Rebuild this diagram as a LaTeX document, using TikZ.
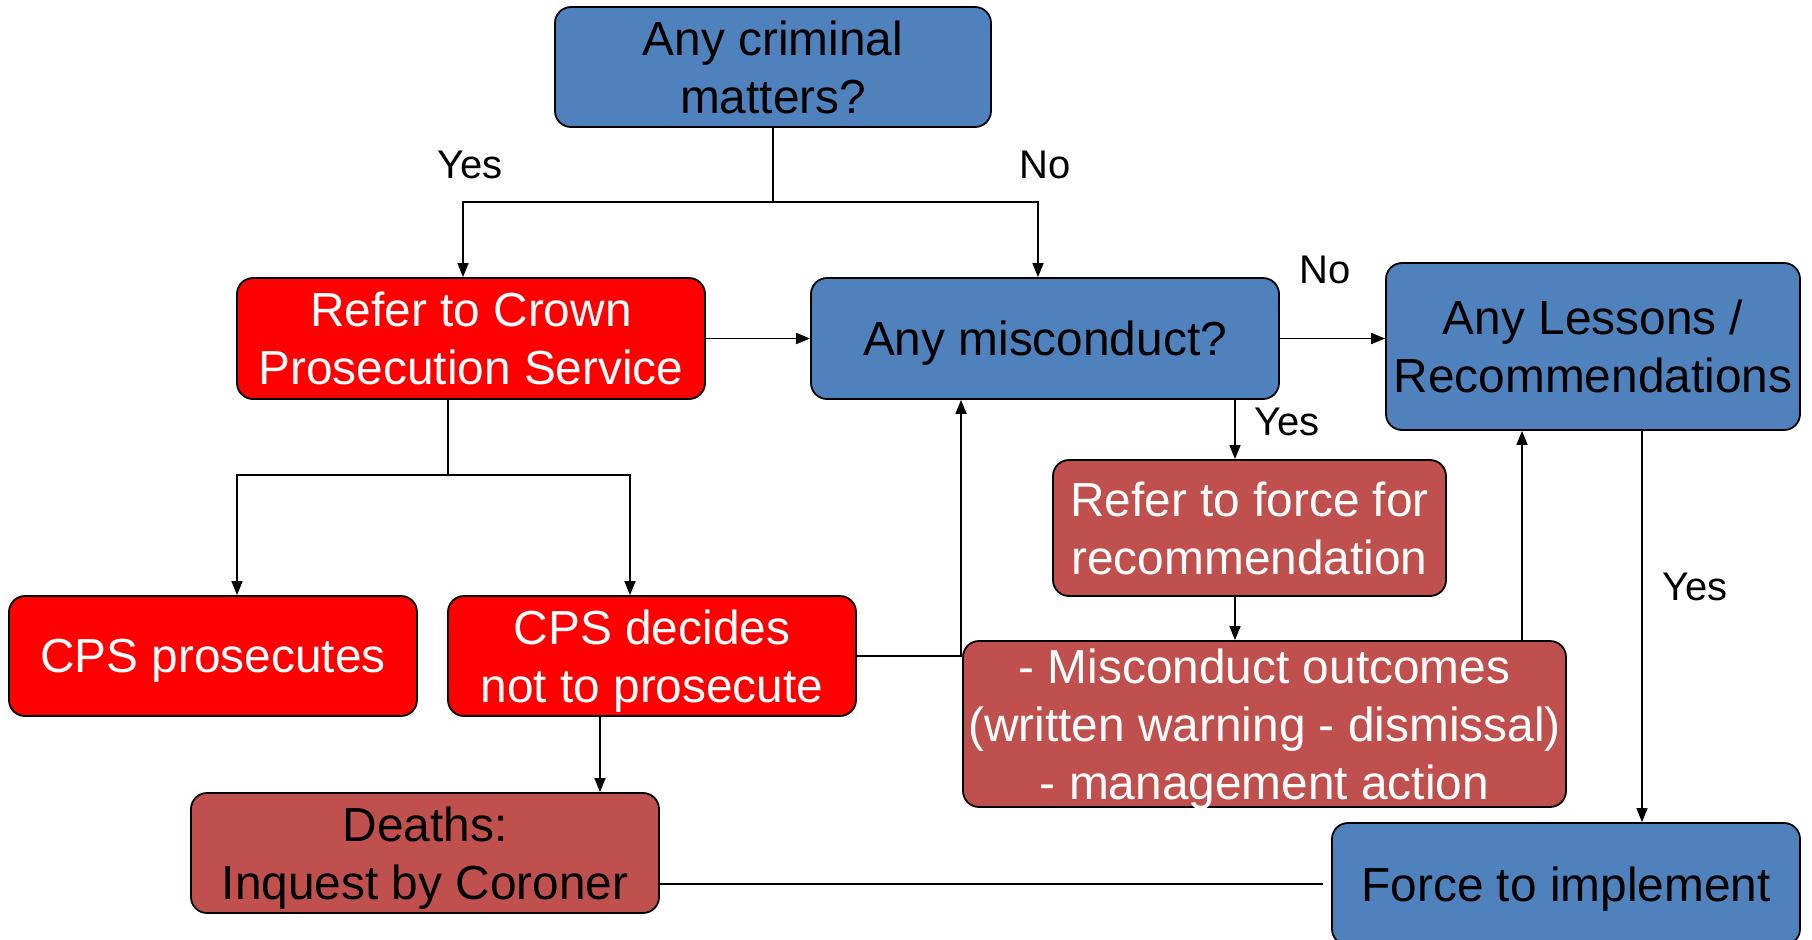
\documentclass[tikz,border=0pt]{standalone}
\usepackage{fontspec}
\setmainfont{Liberation Sans}
\usetikzlibrary{arrows.meta}
\definecolor{boxblue}{HTML}{4F81BD}
\definecolor{boxred}{HTML}{FF0000}
\definecolor{boxbrown}{HTML}{C0504D}
\tikzset{
  box/.style={draw=black, line width=0.9pt, rounded corners=8pt, align=center, inner sep=1pt, text depth=-1.5pt, font=\fontsize{23.9}{29}\selectfont},
  bluebox/.style={box, fill=boxblue, text=black},
  redbox/.style={box, fill=boxred, text=white},
  brownbox/.style={box, fill=boxbrown, text=white},
  link/.style={line width=0.8pt},
  arr/.style={link, -{Triangle[length=7pt,width=5.5pt]}},
  lbl/.style={font=\fontsize{20}{24}\selectfont}
}
\begin{document}
\begin{tikzpicture}[x=0.5pt, y=-0.5pt]
    \useasboundingbox (0,0) rectangle (1812,939);
    % Boxes
    \node[bluebox, minimum width=218pt, minimum height=60pt] (crim) at (773,67) {Any criminal\\matters?};
    \node[redbox, minimum width=234pt, minimum height=60.5pt] (cps) at (471,338.5) {Refer to Crown\\Prosecution Service};
    \node[bluebox, minimum width=234pt, minimum height=60.5pt] (misc) at (1045,338.5) {Any misconduct?};
    \node[bluebox, minimum width=207pt, minimum height=83.5pt] (lessons) at (1593,346.5) {Any Lessons /\\Recommendations};
    \node[brownbox, minimum width=196.5pt, minimum height=68pt] (force) at (1249.5,528) {Refer to force for\\recommendation};
    \node[redbox, minimum width=204pt, minimum height=60pt] (pros) at (213,656) {CPS prosecutes};
    \node[redbox, minimum width=204pt, minimum height=60pt] (decide) at (652,656) {CPS decides\\not to prosecute};
    \node[brownbox, minimum width=301.5pt, minimum height=83pt] (outc) at (1264.5,724) {- Misconduct outcomes\\(written warning - dismissal)\\- management action};
    \node[brownbox, text=black, minimum width=234pt, minimum height=60pt] (deaths) at (425,853) {Deaths:\\Inquest by Coroner};
    \node[bluebox, minimum width=234pt, minimum height=61pt] (impl) at (1566,884) {Force to implement};

    % Junctions
    \coordinate (split) at (773,202);
    \coordinate (yesdrop) at (463,202);
    \coordinate (nodrop) at (1038,202);
    \coordinate (fork) at (448,475);
    \coordinate (forkl) at (237,475);
    \coordinate (forkr) at (630,475);
    \coordinate (back) at (961,656);
    \coordinate (mx) at (1235,0);
    \coordinate (upx) at (1522,0);
    \coordinate (downx) at (1642,0);
    \coordinate (dx) at (600,0);

    % Connectors
    \draw[link] (crim) -- (split);
    \draw[arr] (split) -- (yesdrop) -- (yesdrop |- cps.north);
    \draw[arr] (split) -- (nodrop) -- (nodrop |- misc.north);
    \draw[arr] (cps) -- (misc);
    \draw[link] (fork |- cps.south) -- (fork);
    \draw[arr] (fork) -- (forkl) -- (forkl |- pros.north);
    \draw[arr] (fork) -- (forkr) -- (forkr |- decide.north);
    \draw[arr] (decide.east |- back) -| (back |- misc.south);
    \draw[arr] (misc) -- (lessons.west |- misc);
    \draw[arr] (mx |- misc.south) -- (mx |- force.north);
    \draw[arr] (mx |- force.south) -- (mx |- outc.north);
    \draw[arr] (upx |- outc.north) -- (upx |- lessons.south);
    \draw[arr] (downx |- lessons.south) -- (downx |- impl.north);
    \draw[arr] (dx |- decide.south) -- (dx |- deaths.north);
    \draw[link] (deaths.east |- impl) -- ([xshift=-4pt]impl.west);

    % Labels
    \node[lbl] (yes1) at (470,165) {Yes};
    \node[lbl] (no1) at (1045,165) {No};
    \node[lbl] (no2) at (1325,270) {No};
    \node[lbl] (yes2) at (1287,422) {Yes};
    \node[lbl] (yes3) at (1695,587) {Yes};
\end{tikzpicture}
\end{document}
